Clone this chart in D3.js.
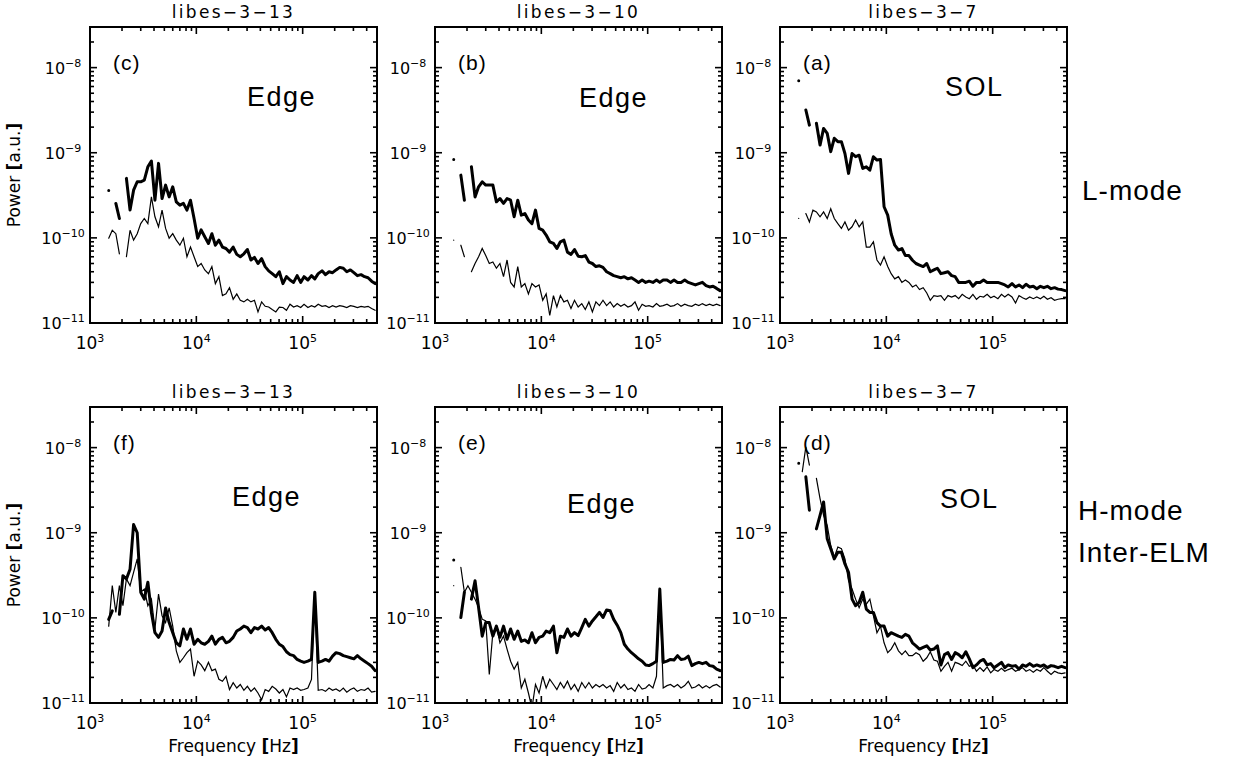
<!DOCTYPE html>
<html>
<head>
<meta charset="utf-8">
<script src="https://cdn.jsdelivr.net/npm/d3@7"></script>
<style>
  body { margin: 0; background: #fff; }
</style>
</head>
<body>
<script>
// frequency grid shared by all spectra [Hz]
const freqHz = [1500,1620,1750,1890,2040,2200,2380,2570,2780,3000,
  3240,3500,3780,4080,4410,4760,5140,5550,6000,6480,
  7000,7560,8160,8810,9520,10300,11100,12000,13000,14000,
  15100,16300,17600,19000,20500,22200,24000,25900,28000,30200,
  32600,35200,38000,41100,44400,47900,51700,55900,60300,65200,
  70400,76000,82100,88700,95800,103000,112000,121000,130000,140000,
  152000,164000,177000,191000,206000,223000,241000,260000,281000,303000,
  327000,354000,382000,412000,445000,480000];

// power values below are in units of 1e-12 a.u. (null = gap)
const UNIT = 1e-12;

// L-mode, libes-3-13 (c)
const lmode13Thick = [360,null,254,169,null,500,212,363,456,456,
  476,684,798,277,750,290,417,303,398,265,
  242,254,212,277,169,99,124,103,86,112,
  82,94,78,75,68,78,64,60,65,73,
  55,59,50,57,46,41,38,35,40,29,
  35,32,30,36,30,35,32,36,33,38,
  41,37,40,39,42,45,44,40,42,39,
  36,37,35,34,31,29];
const lmode13Thin = [99,123,112,65,null,60,123,94,112,147,
  169,147,303,177,135,212,129,99,112,94,
  82,99,60,78,60,46,50,42,38,46,
  29,35,21,22,26,19,22,18.5,17.7,19,
  17.7,18.5,13.5,17.7,15.7,15.4,14.4,13.5,15.4,15.2,
  14.1,16.6,15.4,16,15.2,16.6,15.2,16,15.4,16.6,
  15.7,16,15.2,16,15.4,16,15.7,15.2,16,15.7,
  15.2,15.7,15.4,15.7,14.8,14.1];

// L-mode, libes-3-10 (b)
const lmode10Thick = [835,null,546,277,null,684,303,398,456,417,
  417,417,265,290,254,290,277,177,277,185,
  193,162,147,212,129,123,108,90,86,75,
  90,94,68,64,73,61,60,62,52,50,
  46,47,45,40,38,36,35,34,35,33,
  34,32,30,32,30,31,30,32,30,32,
  32,30,32,30,30,32,30,29,28,29,
  30,27.5,26.5,27,25.5,24];
const lmode10Thin = [94,null,82,60,null,40,50,60,75,62,
  50,52,44,50,35,55,30,26.5,46,26.5,
  29,22,29,26.5,28,18.5,22,12.3,21,15.4,
  21,17.7,18.5,14.8,18.5,15.4,16.9,14.4,17.7,13.5,
  17.7,16,18.5,16,17.7,15.4,16.9,15.7,16.6,15.4,
  16,17.7,14.1,16.6,15.7,16,15.4,16.9,15.7,16,
  16.6,15.7,16,16.9,15.7,16.6,16,15.7,16.6,16,
  16.9,16,16.6,16,16.6,16];

// L-mode, libes-3-7 (a)
const lmode7Thick = [7000,null,3180,2110,null,2220,1230,1930,1690,1030,
  1480,1350,1350,980,572,980,898,935,654,684,
  625,898,820,835,232,185,112,82,72,75,
  62,62,54.6,50,48,46,50,40,42,44,
  38,39,40,36,35,30,30,30,31,27,
  30,30,32,30,30,30,30,29,28,26.5,
  29,26.5,28,26,28.5,26.5,27,25.3,27,26,
  27,25.3,26,25,24.7,24];
const lmode7Thin = [169,null,193,154,212,202,177,202,169,220,
  169,147,129,154,123,135,162,135,154,78,
  78,90,55,48,60,46,38,33,35,30,
  32,30,26.5,28,24.7,26,22.5,18.5,21,20.6,
  21,18.5,21,20.2,21,19.3,21.7,20.2,19.3,21.7,
  19,20.6,20.2,21.7,19.8,20.6,19.3,21.7,20.2,21.7,
  20.2,17.2,21,19.8,19,20.2,19.3,20.2,19.3,20.6,
  19,19.8,18.5,19,19.3,19.3];

// H-mode inter-ELM, libes-3-13 (f)
const hmode13Thick = [96,121,null,110,313,286,373,1250,1000,200,
  166,262,116,67,59,70,131,88,67,51,
  47,74,56,74,49,56,51,49,53,61,
  49,56,59,51,53,59,70,74,80,77,
  67,77,74,80,72,77,67,56,49,46,
  40,37,36,32.5,31,30,31,32.5,200,30,
  31,32.5,31,35.5,39,38,36,35,34,33,
  36,33,31,29,27,24];
const hmode13Thin = [80,239,116,239,139,286,239,343,493,200,
  218,139,166,74,190,106,88,131,80,41,
  30,34,39,43,20.6,31,28,24,30,24,
  25,19,18,20.6,14.4,17.3,15,16.5,14.1,15.7,
  13.7,15,13.1,10.9,14.4,13.7,15.7,14.6,13.1,14.4,
  11.8,15,14.4,15,14.1,14.4,15,18.9,200,14.1,
  14.4,13.7,15,14.1,14.6,13.7,15,13.4,14.4,15,
  13.7,14.4,14.1,15,13.4,13.7];

// H-mode inter-ELM, libes-3-10 (e)
const hmode10Thick = [480,null,101,200,null,166,273,132,61,88,
  88,61,80,59,80,56,74,56,70,53,
  55,51,67,51,59,61,70,67,80,39,
  61,59,74,61,67,62,77,96,80,92,
  103,116,101,124,121,96,82,67,49,43,
  39,36,33,31,28,27.5,29,31,218,30,
  31,32.5,32,36,32.5,33,35.5,27.5,29,30,
  29,30,27.5,27,25,24];
const hmode10Thin = [239,null,393,200,239,200,166,132,96.5,92,
  21.6,67,80,51,61,43,31,25,30,15,
  19,13.1,8.7,16.5,13.1,20.6,15,19,16.5,14.4,
  17.4,15,18,14.4,16.5,13.7,17.4,15,17.4,15,
  16.5,15.4,16.5,15,16,13.7,17.4,15,16.5,14.4,
  15,13.7,16.5,14.6,15,16.5,15,20.6,218,15,
  16,16.5,15.4,16.5,15,16,18,15,15.4,16.5,
  15,16,15,16,16.5,15.4];

// H-mode inter-ELM, libes-3-7 (d)
const hmode7Thick = [6530,null,4540,1840,null,1110,1600,2300,848,650,
  493,590,590,430,343,166,139,152,200,127,
  116,116,88,80,80,61,67,64,61,59,
  64,61,51,47,43,45,47,42,43,47,
  28,37,39,32.5,39,37,34,40,33,26,
  28,31,32.5,28,29,26,28,30,26,28,
  27,27.5,25,28,27,29,27,28,27,28,
  26,27.5,27,26,27,26];
const hmode7Thin = [null,5210,10200,6240,null,4350,2520,1600,1220,708,
  517,680,650,493,274,218,166,132,166,145,
  166,106,67,80,51,39,43,51,41,37,
  41,36,36,39,37,31,34,40,32,31,
  23.6,27,30,23.6,30,29,27.5,31,27,28,
  23.6,26,23.6,26.5,22.6,24.7,23.6,25.6,23.6,24.7,
  25.6,23.6,24.7,26,23.6,24.7,23,24.7,23.6,26,
  23.6,21.6,23.6,22.6,22.2,22.6];

const panelTitles = ["libes\u22123\u221213", "libes\u22123\u221210", "libes\u22123\u22127",
                     "libes\u22123\u221213", "libes\u22123\u221210", "libes\u22123\u22127"];
const panelTags = ["(c)", "(b)", "(a)", "(f)", "(e)", "(d)"];
const regionNames = ["Edge", "Edge", "SOL", "Edge", "Edge", "SOL"];
const thickSeries = [lmode13Thick, lmode10Thick, lmode7Thick, hmode13Thick, hmode10Thick, hmode7Thick];
const thinSeries = [lmode13Thin, lmode10Thin, lmode7Thin, hmode13Thin, hmode10Thin, hmode7Thin];
const xTickExp = [3, 4, 5];
const yTickExp = [-11, -10, -9, -8];

// layout
const colX = [90, 435, 780], rowY = [27, 407];
const pw = 287, ph = 296;
const regionPos = [[157, 79], [144, 80], [165, 69], [142, 99], [132, 106], [160, 101]];
const majorLen = 7, minorLen = 4;

const svg = d3.select("body").append("svg")
  .attr("width", 1233)
  .attr("height", 763)
  .style("font-family", "'DejaVu Sans', sans-serif");

svg.append("defs").append("clipPath").attr("id", "plotclip")
  .append("rect").attr("width", pw).attr("height", ph);

const x = d3.scaleLog().domain([1e3, 5e5]).range([0, pw]);
const y = d3.scaleLog().domain([1e-11, 3e-8]).range([ph, 0]);

const isMajor = v => Math.abs(Math.log10(v) - Math.round(Math.log10(v))) < 1e-6;
const xTicks = x.ticks().map(v => ({v, len: isMajor(v) ? majorLen : minorLen}));
const yTicks = y.ticks().map(v => ({v, len: isMajor(v) ? majorLen : minorLen}));

const line = d3.line()
  .defined(d => d[1] != null)
  .x(d => x(d[0]))
  .y(d => y(d[1] * UNIT));

function drawTicks(g) {
  const t = g.append("g").attr("class", "ticks");
  const style = s => s.attr("stroke", "#000").attr("stroke-width", 1.6);
  // bottom and top, pointing inward
  t.selectAll("line.xb").data(xTicks).join("line").attr("class", "xb")
    .attr("x1", d => x(d.v)).attr("x2", d => x(d.v))
    .attr("y1", ph).attr("y2", d => ph - d.len).call(style);
  t.selectAll("line.xt").data(xTicks).join("line").attr("class", "xt")
    .attr("x1", d => x(d.v)).attr("x2", d => x(d.v))
    .attr("y1", 0).attr("y2", d => d.len).call(style);
  // left and right
  t.selectAll("line.yl").data(yTicks).join("line").attr("class", "yl")
    .attr("y1", d => y(d.v)).attr("y2", d => y(d.v))
    .attr("x1", 0).attr("x2", d => d.len).call(style);
  t.selectAll("line.yr").data(yTicks).join("line").attr("class", "yr")
    .attr("y1", d => y(d.v)).attr("y2", d => y(d.v))
    .attr("x1", pw).attr("x2", d => pw - d.len).call(style);
}

function powerLabel(sel, base, exp) {
  sel.append("tspan").text(base);
  sel.append("tspan").attr("dy", -7).attr("font-size", 11).text(exp);
}

for (let i = 0; i < 6; i++) {
  const col = i % 3, row = Math.floor(i / 3);
  const g = svg.append("g").attr("transform", `translate(${colX[col]},${rowY[row]})`);

  // spectra
  const plot = g.append("g").attr("clip-path", "url(#plotclip)");
  const thinData = freqHz.map((f, k) => [f, thinSeries[i][k]]);
  const thickData = freqHz.map((f, k) => [f, thickSeries[i][k]]);
  plot.append("path").datum(thinData)
    .attr("d", line).attr("fill", "none").attr("stroke", "#000")
    .attr("stroke-width", 1.2).attr("stroke-linecap", "round");
  plot.append("path").datum(thickData)
    .attr("d", line).attr("fill", "none").attr("stroke", "#000")
    .attr("stroke-width", 3).attr("stroke-linejoin", "round").attr("stroke-linecap", "round");

  g.append("rect").attr("width", pw).attr("height", ph)
    .attr("fill", "none").attr("stroke", "#000").attr("stroke-width", 2);

  drawTicks(g);

  // tick labels
  xTickExp.forEach(e => {
    const t = g.append("text").attr("x", x(Math.pow(10, e))).attr("y", ph + 26)
      .attr("text-anchor", "middle").attr("font-size", 17);
    powerLabel(t, "10", String(e));
  });
  yTickExp.forEach(e => {
    const t = g.append("text").attr("x", -27).attr("y", y(Math.pow(10, e)) + 6)
      .attr("text-anchor", "middle").attr("font-size", 16);
    powerLabel(t, "10", "\u2212" + String(-e));
  });

  // title
  g.append("text").attr("x", pw / 2).attr("y", -9)
    .attr("text-anchor", "middle").attr("font-size", 17)
    .attr("letter-spacing", 2.3).text(panelTitles[i]);

  // panel tag and region name
  g.append("text").attr("x", 23).attr("y", 43)
    .attr("font-family", "'Liberation Sans', Arial, sans-serif")
    .attr("font-size", 21).attr("letter-spacing", 1).text(panelTags[i]);
  g.append("text").attr("x", regionPos[i][0]).attr("y", regionPos[i][1])
    .attr("font-family", "'Liberation Sans', Arial, sans-serif")
    .attr("font-size", 27).attr("letter-spacing", 1.5).text(regionNames[i]);

  if (col === 0) {
    const t = g.append("text")
      .attr("transform", `translate(${20 - colX[0]},${ph / 2}) rotate(-90)`)
      .attr("text-anchor", "middle").attr("font-size", 17);
    t.append("tspan").text("Power ");
    t.append("tspan").attr("font-weight", "bold").text("[");
    t.append("tspan").text("a.u.");
    t.append("tspan").attr("font-weight", "bold").text("]");
  }
  if (row === 1) {
    const t = g.append("text").attr("x", pw / 2).attr("y", ph + 49)
      .attr("text-anchor", "middle").attr("font-size", 17);
    t.append("tspan").text("Frequency ");
    t.append("tspan").attr("font-weight", "bold").text("[");
    t.append("tspan").text("Hz");
    t.append("tspan").attr("font-weight", "bold").text("]");
  }
}

// row annotations on the right
const side = svg.append("g")
  .attr("font-family", "'Liberation Sans', Arial, sans-serif")
  .attr("font-size", 28).attr("letter-spacing", 1);
side.append("text").attr("x", 1082).attr("y", 200).text("L-mode");
side.append("text").attr("x", 1078).attr("y", 520).text("H-mode");
side.append("text").attr("x", 1078).attr("y", 562).text("Inter-ELM");
</script>
</body>
</html>
